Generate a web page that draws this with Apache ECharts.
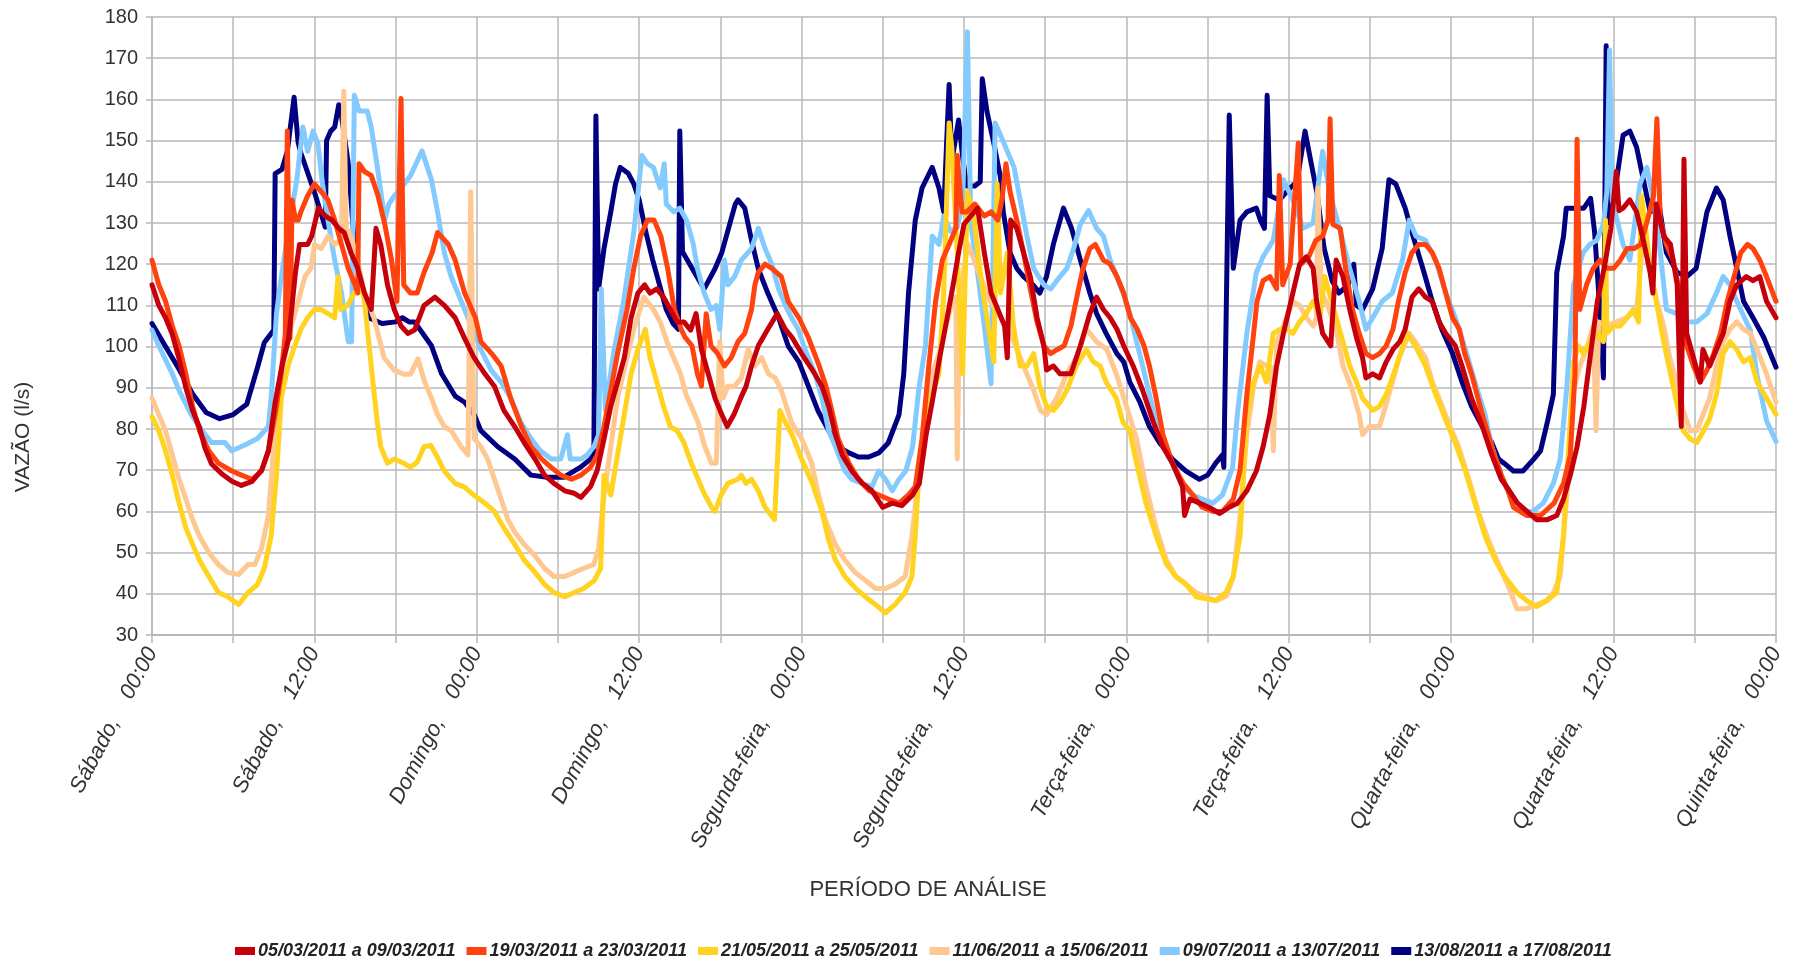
<!DOCTYPE html>
<html><head><meta charset="utf-8">
<script src="https://cdn.jsdelivr.net/npm/echarts@6/dist/echarts.min.js"></script>
<style>html,body{margin:0;padding:0;background:#fff}#c{width:1802px;height:963px}</style>
</head><body><div id="c"></div>
<script>
const seriesNames = ['05/03/2011 a 09/03/2011','19/03/2011 a 23/03/2011','21/05/2011 a 25/05/2011','11/06/2011 a 15/06/2011','09/07/2011 a 13/07/2011','13/08/2011 a 17/08/2011'];
const seriesColors = ['#c5000b','#ff420e','#ffd320','#ffc890','#83caff','#000080'];
const xTickLabels = ['Sábado,    00:00','Sábado,    12:00','Domingo,    00:00','Domingo,    12:00','Segunda-feira,    00:00','Segunda-feira,    12:00','Terça-feira,    00:00','Terça-feira,    12:00','Quarta-feira,    00:00','Quarta-feira,    12:00','Quinta-feira,    00:00'];
const yTickValues = [30,40,50,60,70,80,90,100,110,120,130,140,150,160,170,180];

// [hour since Saturday 00:00, flow l/s]
const s1 = [[0,115],[0.5,110],[1,107],[1.5,103],[2,97],[2.5,90],[3,84.5],[3.5,80.5],[3.9,75.5],[4.4,71.5],[5.2,69],[5.9,67.3],[6.6,66.3],[7.4,67.3],[8.1,70],[8.6,74.7],[9.1,86.5],[9.6,95.3],[10.1,102],[10.6,118],[10.9,124.8],[11.5,124.8],[11.8,126.8],[12.3,133.6],[12.8,131.7],[13.3,130.7],[13.8,128.7],[14.2,127.7],[14.7,122.8],[15.2,119],[15.7,113],[16.2,109],[16.55,128.7],[16.9,124.8],[17.4,115],[17.9,109],[18.4,105],[18.9,103.2],[19.4,104],[20.1,110],[20.9,112],[21.6,110],[22.4,107],[23.1,102],[23.8,97.3],[24.6,93.4],[25.3,90.4],[26,84.5],[26.8,80.6],[27.5,76.7],[28.3,72.7],[29,68.8],[29.7,66.8],[30.5,65],[31.2,64.4],[31.7,63.4],[32.4,66],[32.9,70],[33.4,77.6],[33.9,85.5],[34.4,91.4],[34.9,97.3],[35.4,107],[35.9,113],[36.4,115],[36.8,113],[37.3,114],[37.8,112],[38.3,109],[38.8,106],[39.3,106],[39.8,104],[40.2,108],[40.6,99.3],[41.1,93.4],[41.6,87.5],[42.1,83.5],[42.5,80.6],[43,83.5],[43.5,87.5],[43.9,90.4],[44.3,95.3],[44.8,100.2],[45.5,104.2],[46.2,108],[46.8,104.2],[47.3,102.2],[48,98.3],[48.8,94.3],[49.5,90.4],[50,85.5],[50.5,78.6],[51,73.7],[51.7,69.8],[52.5,66.8],[53.2,65],[54,61],[54.7,62],[55.4,61.4],[56.2,64],[56.7,66.8],[57.2,78.6],[57.7,87.5],[58.2,97.3],[58.7,106],[59.2,115],[59.6,122.8],[60,129.7],[60.5,131.7],[61,133.6],[61.5,122.8],[62,113],[62.5,109],[63,105],[63.2,97.3],[63.45,130.7],[63.9,128.7],[64.4,122.8],[64.9,117],[65.4,107],[65.9,100.2],[66.1,94.3],[66.6,95.3],[67.1,93.4],[67.9,93.4],[68.6,100.2],[69.3,108],[69.8,112],[70.3,109],[70.8,107],[71.3,104.2],[71.8,100.2],[72.5,95.3],[73.2,89.4],[74,81.6],[74.7,75.7],[75.4,71.7],[76.15,66],[76.3,59],[76.7,63],[77.4,62],[78.1,61],[78.9,59.5],[79.6,61],[80.2,62],[80.9,65],[81.6,69.8],[82.1,75.7],[82.6,83.5],[83.1,95.3],[83.6,103.2],[84.3,113],[84.8,120],[85.3,121.8],[85.8,119],[86.05,111],[86.5,103.2],[87.1,100.2],[87.5,121],[88,117],[88.5,109],[89,102.2],[89.45,97.3],[89.7,92.4],[90.2,93.4],[90.7,92.4],[91.2,96.3],[91.7,99.3],[92.2,101.2],[92.6,104.2],[93.1,112],[93.6,114],[94.1,112],[94.6,111],[95.1,106],[95.6,103.2],[96.3,100.2],[96.8,95.3],[97.5,87.5],[98.3,80.6],[99,73.7],[99.7,67.8],[100.3,65],[100.9,62],[101.6,60],[102.3,58],[103.1,58],[103.8,59],[104.3,63],[104.8,68.8],[105.3,75.7],[105.8,85.5],[106.3,98.3],[106.8,111],[107.3,119],[107.8,128.7],[108.2,142.5],[108.4,133],[108.7,133.6],[109.2,135.6],[109.7,132.7],[110.2,125.8],[110.7,118],[110.9,113],[111.15,134.6],[111.7,126.8],[112.2,124.8],[112.7,115],[113,80.6],[113.2,145.5],[113.4,103.2],[113.9,97.3],[114.4,91.4],[114.6,99.3],[115.1,95.3],[115.6,99.3],[116.1,103.2],[116.6,111],[117.1,115],[117.8,117],[118.3,116],[118.8,117],[119.3,111],[120,107]];

const s2 = [[0,121],[0.5,115],[1,111],[1.5,105],[2,100.2],[2.5,93.4],[3,85.5],[3.5,79.6],[4.2,74.7],[4.9,71.7],[5.9,69.8],[6.6,68.8],[7.4,67.8],[8.1,69.8],[8.6,74.7],[9.1,83.5],[9.55,93.4],[9.85,103],[10,152.3],[10.2,102],[10.35,135.6],[10.6,130.7],[10.8,130.7],[11,132.7],[11.5,136.6],[12,139.5],[12.5,137.6],[13,135.6],[13.5,130.7],[14,124.8],[14.5,119],[15,115],[15.2,113],[15.3,144.4],[15.7,142.5],[16.2,141.5],[16.7,136.6],[17.2,129.7],[17.7,121],[18.1,111],[18.4,160.2],[18.6,115],[19.1,113],[19.6,113],[20.1,118],[20.7,122.8],[21.1,127.7],[21.9,124.8],[22.4,121],[23.1,113],[23.9,107],[24.3,101.2],[25.1,98.3],[25.8,95.3],[26.5,87.5],[27.3,80.6],[28,75.7],[28.8,72.7],[29.5,70.7],[30.2,68.8],[31,67.8],[31.7,68.8],[32.4,70.7],[32.9,73.7],[33.4,80.6],[33.9,89.4],[34.4,98.3],[35.1,109],[35.6,119],[36.1,126.8],[36.6,130.7],[37.1,130.7],[37.6,126.8],[38.1,119],[38.6,109],[39.1,104.2],[39.4,102.2],[39.9,100.2],[40.3,93.4],[40.6,90.4],[40.95,108],[41.3,100.2],[41.8,98.3],[42.3,95.3],[42.8,97.3],[43.3,101.2],[43.8,103.2],[44.3,109],[44.55,115],[44.8,118],[45.3,120],[45.8,119],[46.5,117],[47,111],[47.8,107],[48.5,102.2],[49.3,95.3],[49.8,90.4],[50.3,83.5],[50.7,77.6],[51.5,71.7],[52.2,67.8],[53,65],[53.7,64],[54.4,63],[55.2,62],[55.9,64],[56.4,66],[56.9,77.6],[57.4,95.3],[57.9,111],[58.4,121],[58.9,124.8],[59.4,128.7],[59.5,146.4],[59.85,132.7],[60.2,132.7],[60.8,134.6],[61.5,131.7],[62,132.7],[62.5,130.7],[62.8,135.6],[63.1,144.4],[63.4,137.6],[63.9,130.7],[64.4,122.8],[64.9,114],[65.4,106],[65.9,100.2],[66.4,98.3],[66.9,99.3],[67.4,100.2],[67.9,105],[68.4,113],[68.8,119],[69.3,123.8],[69.7,124.8],[70.3,121],[70.8,120],[71.3,117],[71.8,113],[72.3,107],[72.8,104.2],[73.3,100.2],[73.7,95.3],[74.2,87.5],[74.7,78.6],[75.4,71.7],[76.2,66.8],[76.9,64],[77.6,61],[78.4,60],[79.1,60],[79.9,63],[80.4,70],[80.9,88.4],[81.4,103.2],[81.65,111],[82.1,116],[82.6,117],[83.1,114],[83.3,141.5],[83.55,115],[84.1,120],[84.7,149.4],[84.9,120],[85.5,122],[86,125.8],[86.5,126.8],[86.9,130.7],[87.05,155.3],[87.25,129.7],[87.8,128.7],[88.2,119],[88.7,109],[89.2,103.2],[89.7,98.3],[90.2,97.3],[90.7,98.3],[91.2,100.2],[91.7,104.2],[92.1,111],[92.6,118],[93.1,122.8],[93.6,124.8],[94.1,124.8],[94.6,122.8],[95.1,119],[95.6,113],[96.1,107],[96.6,104.2],[97,98.3],[97.5,93.4],[98.3,83.5],[99,75.7],[99.7,68.8],[100.2,65],[100.6,61],[101.6,59],[102.6,59],[103.6,62],[104.3,66.8],[104.8,73.7],[105.15,93.4],[105.3,150.3],[105.5,109],[106,115],[106.5,119],[107,121],[107.5,119],[108,119],[108.5,121],[109,123.8],[109.5,123.8],[110,124.8],[110.5,130.7],[110.95,136.6],[111.2,155.3],[111.45,130.7],[111.9,124.8],[112.4,121],[112.9,113],[113.4,100.2],[113.9,95.3],[114.4,91.4],[114.9,94.3],[115.4,98.3],[115.9,103.2],[116.4,111],[116.9,117],[117.4,122.8],[117.9,124.8],[118.3,123.8],[118.8,121],[119.3,117],[120,111]];

const s3 = [[0,83],[0.5,79.6],[1,74.7],[1.5,68.8],[2,62],[2.5,56],[3,52],[3.5,48.2],[4.2,44.2],[4.9,40.3],[5.6,39.3],[6.4,37.4],[7.1,40.3],[7.8,42.3],[8.3,46.2],[8.8,54],[9.2,68.8],[9.55,87.5],[10.05,95.3],[10.55,100.2],[11,104.2],[11.5,107],[12,109],[12.5,109],[13,108],[13.5,107],[13.75,117],[13.95,109],[14.45,110],[14.95,113],[15.45,115],[15.7,111],[15.95,103.2],[16.2,95.3],[16.45,87.5],[16.65,81.6],[16.9,75.7],[17.4,71.7],[17.9,72.7],[18.6,71.7],[19.1,70.7],[19.6,72],[20.1,75.7],[20.6,76],[21,73.7],[21.6,69.8],[22.4,66.8],[23.1,65.9],[23.8,63.9],[24.6,62],[25.3,60],[26,56],[26.8,52],[27.5,48.2],[28.3,45.2],[29,42.3],[29.7,40.3],[30.5,39.3],[31.2,40.3],[31.9,41.3],[32.7,43.3],[33.15,46.2],[33.4,68.8],[33.9,64],[34.4,73.7],[34.9,83.5],[35.4,93.4],[35.9,99.3],[36.45,104.2],[36.8,97.3],[37.3,91.4],[37.8,85.5],[38.3,80.6],[38.8,79.6],[39.3,76.7],[39.85,71.7],[40.35,67.8],[40.85,64],[41.35,61],[41.6,60],[42.05,64],[42.55,66.8],[43.3,67.8],[43.55,68.8],[43.9,66.8],[44.3,67.8],[44.8,65],[45.3,61],[46,58],[46.4,84.5],[46.8,81.6],[47.3,78.6],[48,72.7],[48.8,66.8],[49.5,60],[50,53],[50.5,48.2],[51.2,44.2],[52,41.3],[52.7,39.3],[53.45,37.4],[54.2,35.4],[54.9,37.4],[55.65,40.3],[56.15,44.2],[56.4,54],[56.65,68.8],[57.15,83.5],[57.65,88.4],[58.15,93.4],[58.5,113],[58.9,154.3],[59.1,148.4],[59.5,122.8],[59.9,93.4],[60.25,137.6],[60.75,130.7],[61.2,118],[61.7,107],[62.2,96.3],[62.45,139.5],[62.7,113],[63.2,122.8],[63.65,105],[64.15,95.3],[64.65,95.3],[65.15,98.3],[65.6,90.4],[66.1,85.5],[66.6,84.5],[67.1,86.5],[67.6,89.4],[68.3,95.3],[69.05,99.3],[69.55,96.3],[70.05,95.3],[70.5,91.4],[71.25,87.5],[71.75,81.6],[72.25,79.6],[72.75,71.7],[73.45,62],[74.2,54],[74.95,47.3],[75.65,44.2],[76.4,42.3],[77.15,39.3],[77.9,38.8],[78.6,38.3],[79.35,40.3],[79.9,44.2],[80.4,54],[80.65,68.8],[80.9,83.5],[81.4,91.4],[81.9,95.3],[82.35,91.4],[82.85,103.2],[83.35,104.2],[83.85,104.2],[84.3,103.2],[84.8,106],[85.3,108],[85.8,111],[86.3,107],[86.65,117],[87,113],[87.5,107],[88,101.2],[88.5,95.3],[89,91.4],[89.45,87.5],[90.2,84.5],[90.7,85.5],[91.2,88.4],[91.65,92.4],[92.15,97.3],[92.75,103.2],[93.35,100.2],[94.1,95.3],[94.85,88.4],[95.55,82.5],[96.3,76.7],[97.05,69.8],[97.75,62],[98.5,54],[99.25,48.2],[99.95,44.2],[100.4,42.3],[100.85,40.3],[101.6,38.3],[102.3,36.9],[103.05,38.3],[103.8,40.3],[104.3,54],[104.65,73.7],[105.05,96.3],[105.4,100.2],[105.75,98.3],[106.25,101.2],[106.75,103.2],[107.25,101.2],[107.4,130.7],[107.5,103.2],[108,105],[108.5,105],[109,107],[109.45,109],[109.85,106],[110.05,136.6],[110.3,130.7],[110.7,119],[111.2,110],[111.7,101.2],[112.2,93.4],[112.65,86.5],[113.15,79.6],[113.65,77.6],[114.15,76.7],[114.65,79.6],[115.1,82.5],[115.6,88.4],[116.1,98.3],[116.6,101.2],[117.1,99.3],[117.6,96.3],[118.1,97.3],[118.6,91.4],[119.3,87.5],[120,83.5]];

const s4 = [[0,87.5],[0.5,83.5],[1,79.6],[1.5,73.7],[2,67.8],[2.5,63],[3,58],[3.5,54],[4.2,50],[4.9,47.1],[5.6,45.2],[6.4,44.7],[7.1,47.1],[7.6,47.1],[8.1,51.1],[8.6,59],[8.95,73.7],[9.3,88.4],[9.8,97.3],[10.3,105],[10.8,111],[11.3,117],[11.75,119],[12,124.8],[12.5,123.8],[13,126.8],[13.5,124.8],[14,126],[14.17,162],[14.35,128.7],[14.7,126.8],[15.2,121],[15.7,113],[16.4,107],[17.15,97.3],[17.9,94.3],[18.6,93.3],[19.1,93.3],[19.65,97],[20.15,91.4],[20.65,87.5],[21.1,83.5],[21.6,80.6],[22.1,79.6],[22.85,75.7],[23.35,73.7],[23.55,137.6],[23.8,77.7],[24.3,75.7],[24.8,72.7],[25.3,67.8],[25.8,63],[26.3,58],[26.8,55],[27.5,52],[28.3,49.2],[29,46.2],[29.7,44.2],[30.5,44.2],[31.2,45.2],[31.9,46.2],[32.65,47.1],[33,51.1],[33.4,64],[33.9,75.7],[34.4,87.5],[35.1,97.3],[35.6,104.2],[36.35,112],[37.05,109],[37.55,106],[38.05,101.2],[38.55,97.3],[39.05,93.4],[39.5,88],[39.85,85.5],[40.35,81.6],[40.85,75.7],[41.35,71.7],[41.7,71.7],[41.95,101.2],[42.2,87.5],[42.55,90.4],[43.05,90.4],[43.55,92.4],[44.05,99.3],[44.55,95.3],[45.05,97.3],[45.55,93.4],[46.05,92.4],[46.5,89.4],[47.25,81.6],[48,77.7],[48.75,71.7],[49.25,64],[49.75,58],[50.5,52],[51.2,48.2],[51.95,45.2],[52.7,43.3],[53.45,41.3],[54.2,41.3],[54.9,42.3],[55.65,44.2],[56.15,54],[56.65,68.8],[57.15,83.5],[57.65,93.4],[58.15,98.3],[58.65,105],[59.15,111],[59.4,112],[59.5,72.7],[59.7,113],[60.1,121],[60.3,124.8],[60.75,121],[61.2,117],[61.95,111],[62.7,107],[63.45,103.2],[64.4,95.3],[65.15,89.4],[65.65,84.5],[66.1,83.5],[66.85,87.5],[67.6,93.4],[68.3,97.3],[69.05,104.2],[69.8,101.2],[70.55,99.3],[71.25,93.4],[72,85.5],[72.75,77.7],[73.45,66],[74.2,56],[74.95,48.2],[75.65,44.2],[76.4,42.3],[77.15,40.3],[77.9,39.3],[78.6,38.3],[79.4,39.5],[79.9,44.2],[80.4,58.9],[80.9,78.6],[81.4,90.4],[81.85,96.3],[82.35,95.3],[82.7,95],[82.85,74.7],[83.1,101.2],[83.6,105],[84.3,111],[84.8,110],[85.3,107],[85.8,105],[86.05,107],[86.15,138.5],[86.4,113],[86.75,111],[87.5,104.2],[88,95.3],[88.7,89.4],[89.2,83.5],[89.45,78.6],[89.95,80.6],[90.7,80.6],[91.15,85.5],[91.65,91.4],[92.15,97.3],[92.9,103.2],[93.35,101.2],[94.1,97.3],[94.6,91.4],[95.1,87.5],[95.8,81.6],[96.55,75.7],[97.3,67.8],[98,60],[98.75,53],[99.5,47.2],[100.2,42],[100.85,36.4],[101.6,36.4],[102.3,37.4],[103.05,38.3],[103.55,40.3],[104.05,44.2],[104.55,64],[105.05,89.4],[105.5,95.3],[106,99.3],[106.5,105],[106.7,79.6],[106.9,106],[107.5,105],[108.2,106],[108.95,107],[109.7,109],[110.2,126.8],[110.7,118],[111.2,111],[111.7,105],[112.15,97.3],[112.65,91.4],[113.15,84.5],[113.65,79.6],[114.15,79.6],[114.6,83.5],[115.1,87.5],[115.6,95.3],[116.1,101.2],[116.6,104.2],[117.1,106],[117.6,104.2],[118.1,103.2],[118.6,99.3],[119.3,93.4],[120,86.5]];

const s5 = [[0,104],[0.5,100.2],[1.5,93.4],[2,89.4],[2.9,83.5],[3.7,79.6],[4.4,76.7],[5.4,76.7],[5.9,74.7],[6.9,76.2],[7.8,77.7],[8.6,80.6],[8.8,87.5],[9.2,108],[9.6,118],[10.3,132.7],[10.7,140.5],[11.15,153.3],[11.5,147.4],[11.9,152.3],[12.25,149.4],[12.6,139.5],[13,130.7],[13.5,121],[14,113],[14.5,101.2],[14.75,101.2],[14.95,161],[15.3,157.2],[15.7,157.2],[15.9,157.2],[16.2,153.3],[16.7,142.5],[17.2,130.7],[17.5,134.6],[17.9,136.6],[18.4,138.5],[19.1,141.5],[19.95,147.5],[20.65,140.5],[21.1,132.7],[21.6,122.8],[22.1,117],[22.85,111],[23.6,105],[24.3,99.3],[25.05,94.3],[25.8,91.4],[26.5,87.5],[27.25,81.6],[28,77.7],[28.7,74.7],[29.5,72.7],[30.2,72.7],[30.7,78.6],[30.9,72.7],[31.7,72.7],[32.15,73.7],[32.65,75.7],[33,78.6],[33.2,114],[33.5,84.5],[34.1,98.3],[34.85,111],[35.6,127.7],[36.2,146.4],[36.6,144.4],[37.05,143.5],[37.55,138.5],[37.85,144.4],[38,134.6],[38.55,132.7],[39,133.6],[39.5,130.7],[40,124.8],[40.3,119],[40.8,113],[41.3,109],[41.7,110],[41.95,104.2],[42.3,121],[42.55,115],[43.05,117],[43.55,121],[44.3,123.8],[44.8,128.7],[45.3,123.8],[45.8,120],[46.3,114],[46.8,110],[47.25,107],[47.75,104.2],[48.25,99.3],[49,93.4],[49.5,87.5],[50,79.6],[50.5,75.7],[51.2,69.8],[51.7,67.8],[52.45,66.8],[53.2,66],[53.7,69.8],[54.2,67.8],[54.7,65],[55.2,67.8],[55.7,69.8],[56.2,75.7],[56.65,89.4],[57.15,100.2],[57.65,126.8],[58.15,124.8],[58.5,131.7],[59,128],[59.5,129],[59.9,135],[60.25,176.4],[60.5,130],[61,118],[61.5,105],[62,91],[62.3,154.3],[62.7,151.3],[63.2,147.4],[63.7,143.5],[64.15,135.6],[64.65,126.8],[65.15,119],[65.9,115],[66.4,114],[66.85,116],[67.6,119],[68.1,123.8],[68.6,129.7],[69.2,133],[69.8,128.7],[70.3,126.8],[70.8,121],[71.3,117],[71.75,113],[72.25,108],[72.75,101.2],[73.2,95.3],[73.7,88.4],[74.2,81.6],[74.7,75.7],[75.4,71.7],[76.15,66],[76.9,64],[77.6,63],[78.4,62],[79.1,64],[79.85,70.7],[80.2,83.5],[80.9,103.2],[81.6,118],[82.1,121.8],[82.85,125.8],[83.6,140.5],[84.3,135.6],[85.05,128.7],[85.8,130],[86.5,147.4],[87,137.6],[87.75,128.7],[88.5,119],[89.2,111],[89.7,104.2],[90.2,107],[90.9,111],[91.65,113],[92.4,121],[92.9,130.7],[93.4,126.8],[94.1,125.8],[94.85,121],[95.6,113],[96.3,107],[97.05,99.3],[97.75,91.4],[98.5,83.5],[99,75.7],[99.7,68.8],[100.3,64],[100.85,62],[101.3,60],[102.05,60],[102.8,62],[103.55,66.8],[104.05,72.6],[104.55,90.4],[105.05,115],[105.75,122.8],[106.25,124.8],[106.75,125.8],[107.25,129.7],[107.5,137.6],[107.7,172],[107.9,135.6],[108.7,124.8],[109.2,121],[109.95,139.5],[110.45,143.5],[110.95,135.6],[111.45,122.8],[111.9,109],[112.65,108],[113.4,106],[114.15,106],[114.9,108],[115.6,113],[116.1,117],[116.6,115],[117.1,111],[118.1,104],[118.6,93],[119.3,82],[120,77]];

const s6 = [[0,105.6],[1,100],[2,94.5],[3,88.5],[4,84],[5,82.5],[6,83.5],[7,86],[7.8,95],[8.3,101],[9,104],[9.1,142],[9.6,143],[10,147.4],[10.5,160.5],[10.8,149.5],[11,147],[12,137.5],[12.8,129],[12.9,150],[13.2,152.3],[13.5,153.3],[13.8,158.7],[14,156],[14.5,144.5],[15,123],[15.5,115],[16,107],[17,105.6],[18,106],[18.5,107],[19,106],[19.4,106],[20.65,100.2],[21.4,93.4],[22.4,88],[23.1,86.5],[23.8,83.5],[24.3,79.6],[25.55,75.7],[26.8,72.7],[28,68.8],[29.2,68.3],[30.45,68.3],[31.7,70.8],[32.4,72.7],[32.65,73.7],[32.8,156],[33,114],[33.4,123.8],[33.9,132.7],[34.25,139.5],[34.6,143.5],[35.2,142],[35.6,139.5],[36,135.6],[36.5,127.7],[37,121],[37.5,115],[38,109],[38.5,105.6],[38.9,104.2],[39,152.3],[39.2,123],[40.1,117.9],[40.8,114],[41.6,118.9],[42.1,122.8],[42.6,128.7],[43.1,134.6],[43.3,135.6],[43.8,133.6],[44.3,125.8],[44.8,118.9],[45.5,113],[46.3,107],[47,100.2],[47.8,96.3],[48.5,90.4],[49.2,84.5],[50,79.6],[50.7,75.7],[51.5,74.2],[52.2,73.2],[52.95,73.2],[53.7,74.2],[54.4,76.6],[55.2,83.5],[55.55,93.4],[55.9,113],[56.4,130.7],[56.9,138.5],[57.65,143.5],[58.15,138.5],[58.5,132.7],[58.9,163.6],[59.1,145],[59.6,155],[59.9,146],[60.2,139],[60.8,139],[61.2,140],[61.35,165],[61.7,157],[62.2,149.4],[62.7,141],[62.9,132.7],[63.4,122.8],[63.9,119],[64.4,117],[65.1,115],[65.6,113],[66.1,117],[66.6,124.8],[67.35,133.6],[67.95,128.7],[68.6,121],[69.3,113],[69.8,108],[70.5,103.2],[71.3,98.3],[71.8,96.3],[72.25,91.4],[73,86.5],[73.7,80.6],[74.45,76.7],[75.4,72.7],[76.4,69.8],[77.4,67.8],[78,68.8],[78.6,71.7],[79.1,73.7],[79.2,70.7],[79.6,156.2],[79.9,119],[80.4,130.7],[80.9,132.7],[81.6,133.6],[81.9,130.7],[82.2,128.7],[82.4,161],[82.6,136.6],[83.3,135.6],[84.1,138.5],[84.6,140],[85.2,152.3],[85.6,145.4],[86.1,137],[86.6,124],[87.2,116],[87.7,113],[88.4,115],[88.8,120],[89,110],[89.45,109],[90.2,114],[90.9,123.8],[91.4,140.5],[91.9,139.5],[92.6,133.6],[93.1,127.7],[93.9,119],[94.6,111],[95.3,104.2],[96.1,98.3],[96.8,91.4],[97.5,85.5],[98.3,80.6],[99,76.7],[99.5,72.7],[99.9,71.7],[100.6,69.8],[101.3,69.8],[102.1,72.7],[102.6,74.7],[103.1,81.6],[103.55,88.4],[103.8,118],[104.3,126.8],[104.5,133.6],[105,133.6],[105.8,133.6],[106.3,136],[106.6,127.7],[107,108],[107.25,92.4],[107.45,173],[107.7,130],[108.2,140],[108.7,151.3],[109.2,152.3],[109.7,148.4],[110.2,140.5],[110.7,132.7],[111.4,133.6],[111.9,122.8],[112.7,118],[113.4,117],[114.1,119],[114.9,132.7],[115.6,138.5],[116.1,135.6],[116.6,126.8],[117.1,119],[117.6,111],[118.3,107],[119.1,102.2],[120,95]];

const allData = [s1, s2, s3, s4, s5, s6];
const chart = echarts.init(document.getElementById('c'), null, {renderer: 'canvas'});
const gridColor = '#b8b8b8';
const sansFamily = "'Liberation Sans', Arial, 'DejaVu Sans', sans-serif";
const option = {
  animation: false,
  backgroundColor: '#ffffff',
  grid: {left: 152, right: 26, top: 17, bottom: 328},
  xAxis: {
    type: 'value', min: 0, max: 120, interval: 6,
    axisLine: {show: true, lineStyle: {color: gridColor, width: 2}},
    axisTick: {show: true, length: 8, lineStyle: {color: gridColor, width: 1.5}},
    splitLine: {show: true, lineStyle: {color: gridColor, width: 1.5}},
    axisLabel: {
      rotate: 62, margin: 14, fontSize: 22, fontStyle: 'italic',
      fontFamily: sansFamily, color: '#333',
      formatter: v => (v % 12 === 0 ? xTickLabels[v / 12] : '')
    }
  },
  yAxis: {
    type: 'value', min: yTickValues[0], max: yTickValues[yTickValues.length - 1], interval: 10,
    axisLine: {show: true, lineStyle: {color: gridColor, width: 1.5}},
    axisTick: {show: true, length: 6, lineStyle: {color: gridColor, width: 1.5}},
    splitLine: {show: true, lineStyle: {color: gridColor, width: 1.5}},
    axisLabel: {margin: 14, fontSize: 20, fontFamily: sansFamily, color: '#333'}
  },
  legend: {
    data: seriesNames, left: 230, top: 937, orient: 'horizontal',
    icon: 'rect', itemWidth: 20, itemHeight: 8, itemGap: 11,
    textStyle: {fontFamily: sansFamily, fontWeight: 'bold', fontStyle: 'italic', fontSize: 18, color: '#222', padding: [0, 0, 0, -2]}
  },
  graphic: [
    {type: 'text', x: 23, y: 437, rotation: Math.PI / 2,
     style: {text: 'VAZÃO (l/s)', font: "21px 'Liberation Sans', Arial, sans-serif", fill: '#333', align: 'center', verticalAlign: 'middle'}},
    {type: 'text', x: 928, y: 890,
     style: {text: 'PERÍODO DE ANÁLISE', font: "22px 'Liberation Sans', Arial, sans-serif", fill: '#333', align: 'center', verticalAlign: 'middle'}}
  ],
  series: allData.map((d, i) => ({
    name: seriesNames[i], type: 'line', data: d,
    showSymbol: false, symbol: 'none', z: 10 - i,
    lineStyle: {width: 5, color: seriesColors[i], join: 'round', cap: 'round'},
    itemStyle: {color: seriesColors[i]}
  }))
};
chart.setOption(option);
</script>
</body></html>
